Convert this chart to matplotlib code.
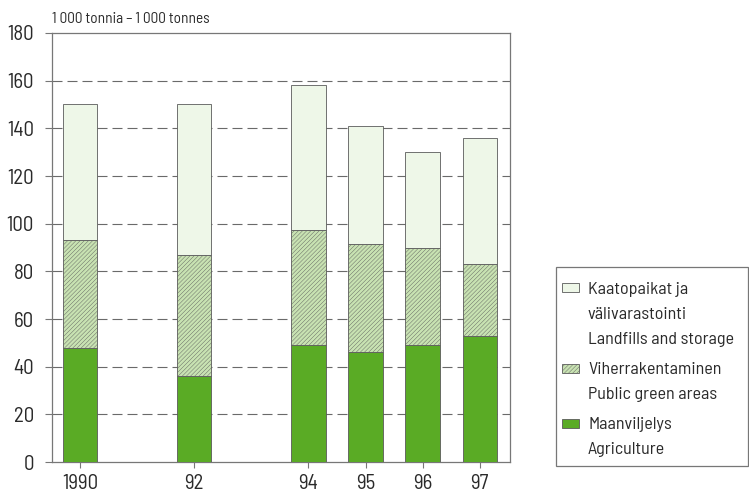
import matplotlib
matplotlib.use("Agg")
import matplotlib.pyplot as plt
from matplotlib import font_manager
from matplotlib.patches import Rectangle

years = [1990, 1992, 1994, 1995, 1996, 1997]
year_labels = ["1990", "92", "94", "95", "96", "97"]
agriculture = [48, 36, 49, 46, 49, 53]
public_green = [45, 51, 48.5, 45.5, 41, 30]
landfills = [57, 63, 60.5, 49.5, 40, 53]
yticks = [0, 20, 40, 60, 80, 100, 120, 140, 160, 180]
legend_labels = [
    ["Kaatopaikat ja", "välivarastointi", "Landfills and storage"],
    ["Viherrakentaminen", "Public green areas"],
    ["Maanviljelys", "Agriculture"],
]

names = {f.name for f in font_manager.fontManager.ttflist}
fam = [n for n in ["Barlow Semi Condensed", "Roboto Condensed", "Archivo Narrow"] if n in names]
plt.rcParams["font.family"] = fam[:1] + ["DejaVu Sans"]
if not fam:
    plt.rcParams["font.stretch"] = "condensed"
plt.rcParams["hatch.color"] = "#b9d9a3"
plt.rcParams["hatch.linewidth"] = 0.3

c_agr = "#5aab25"
c_pub = "#c8e2b2"
c_land = "#eef7e8"
edge = "#5a5a5a"
txtc = "#2a2a2a"

W, H = 749, 494
fig = plt.figure(figsize=(W/100, H/100), dpi=100)
ax = fig.add_axes([52/W, 1 - 462/H, (510-52)/W, (462-33)/H])

w = 0.6
bot2 = [a + p for a, p in zip(agriculture, public_green)]
ax.bar(years, agriculture, width=w, color=c_agr, edgecolor=edge, linewidth=0.6, zorder=3)
ax.bar(years, public_green, width=w, bottom=agriculture, color=c_pub, edgecolor=edge,
       linewidth=0.6, hatch="////////", zorder=3)
ax.bar(years, landfills, width=w, bottom=bot2, color=c_land, edgecolor=edge, linewidth=0.6, zorder=3)

ax.set_ylim(0, 180)
ax.set_xlim(1989.51, 1997.53)
ax.set_yticks(yticks)
ax.set_yticklabels([str(t) for t in yticks], fontsize=15, color=txtc)
ax.set_xticks(years)
ax.set_xticklabels(year_labels, fontsize=15, color=txtc)
ax.tick_params(axis="y", length=5, width=0.8, color="#777777", pad=8)
ax.tick_params(axis="x", length=4.5, width=0.8, color="#777777", pad=4)

for y in yticks[1:-1]:
    ax.axhline(y, color="#6a6a6a", linestyle=(0, (9, 4.5)), linewidth=0.8, zorder=1)

for s in ax.spines.values():
    s.set_color("#777777")
    s.set_linewidth(0.9)

fig.text(52/W, 1 - 23/H, "1 000 tonnia \u2013 1 000 tonnes", fontsize=11,
         ha="left", va="baseline", color=txtc)

# legend drawn in figure pixel coordinates
fig.patches.append(Rectangle((556/W, 1 - 466/H), (748-556)/W, (466-267)/H,
                             transform=fig.transFigure, facecolor="white",
                             edgecolor="#777777", linewidth=0.9))
colors = [c_land, c_pub, c_agr]
hatches = [None, "////////", None]
first_line = [288, 368, 423]
for lines, col, hat, y0 in zip(legend_labels, colors, hatches, first_line):
    fig.patches.append(Rectangle((562/W, 1 - (y0 + 4.5)/H), 17/W, 9/H,
                                 transform=fig.transFigure, facecolor=col,
                                 edgecolor=edge, linewidth=0.6, hatch=hat))
    for i, line in enumerate(lines):
        fig.text(588/W, 1 - (y0 + 25*i)/H, line, fontsize=13, ha="left",
                 va="center_baseline", color=txtc)

fig.savefig("out.png", dpi=100)
